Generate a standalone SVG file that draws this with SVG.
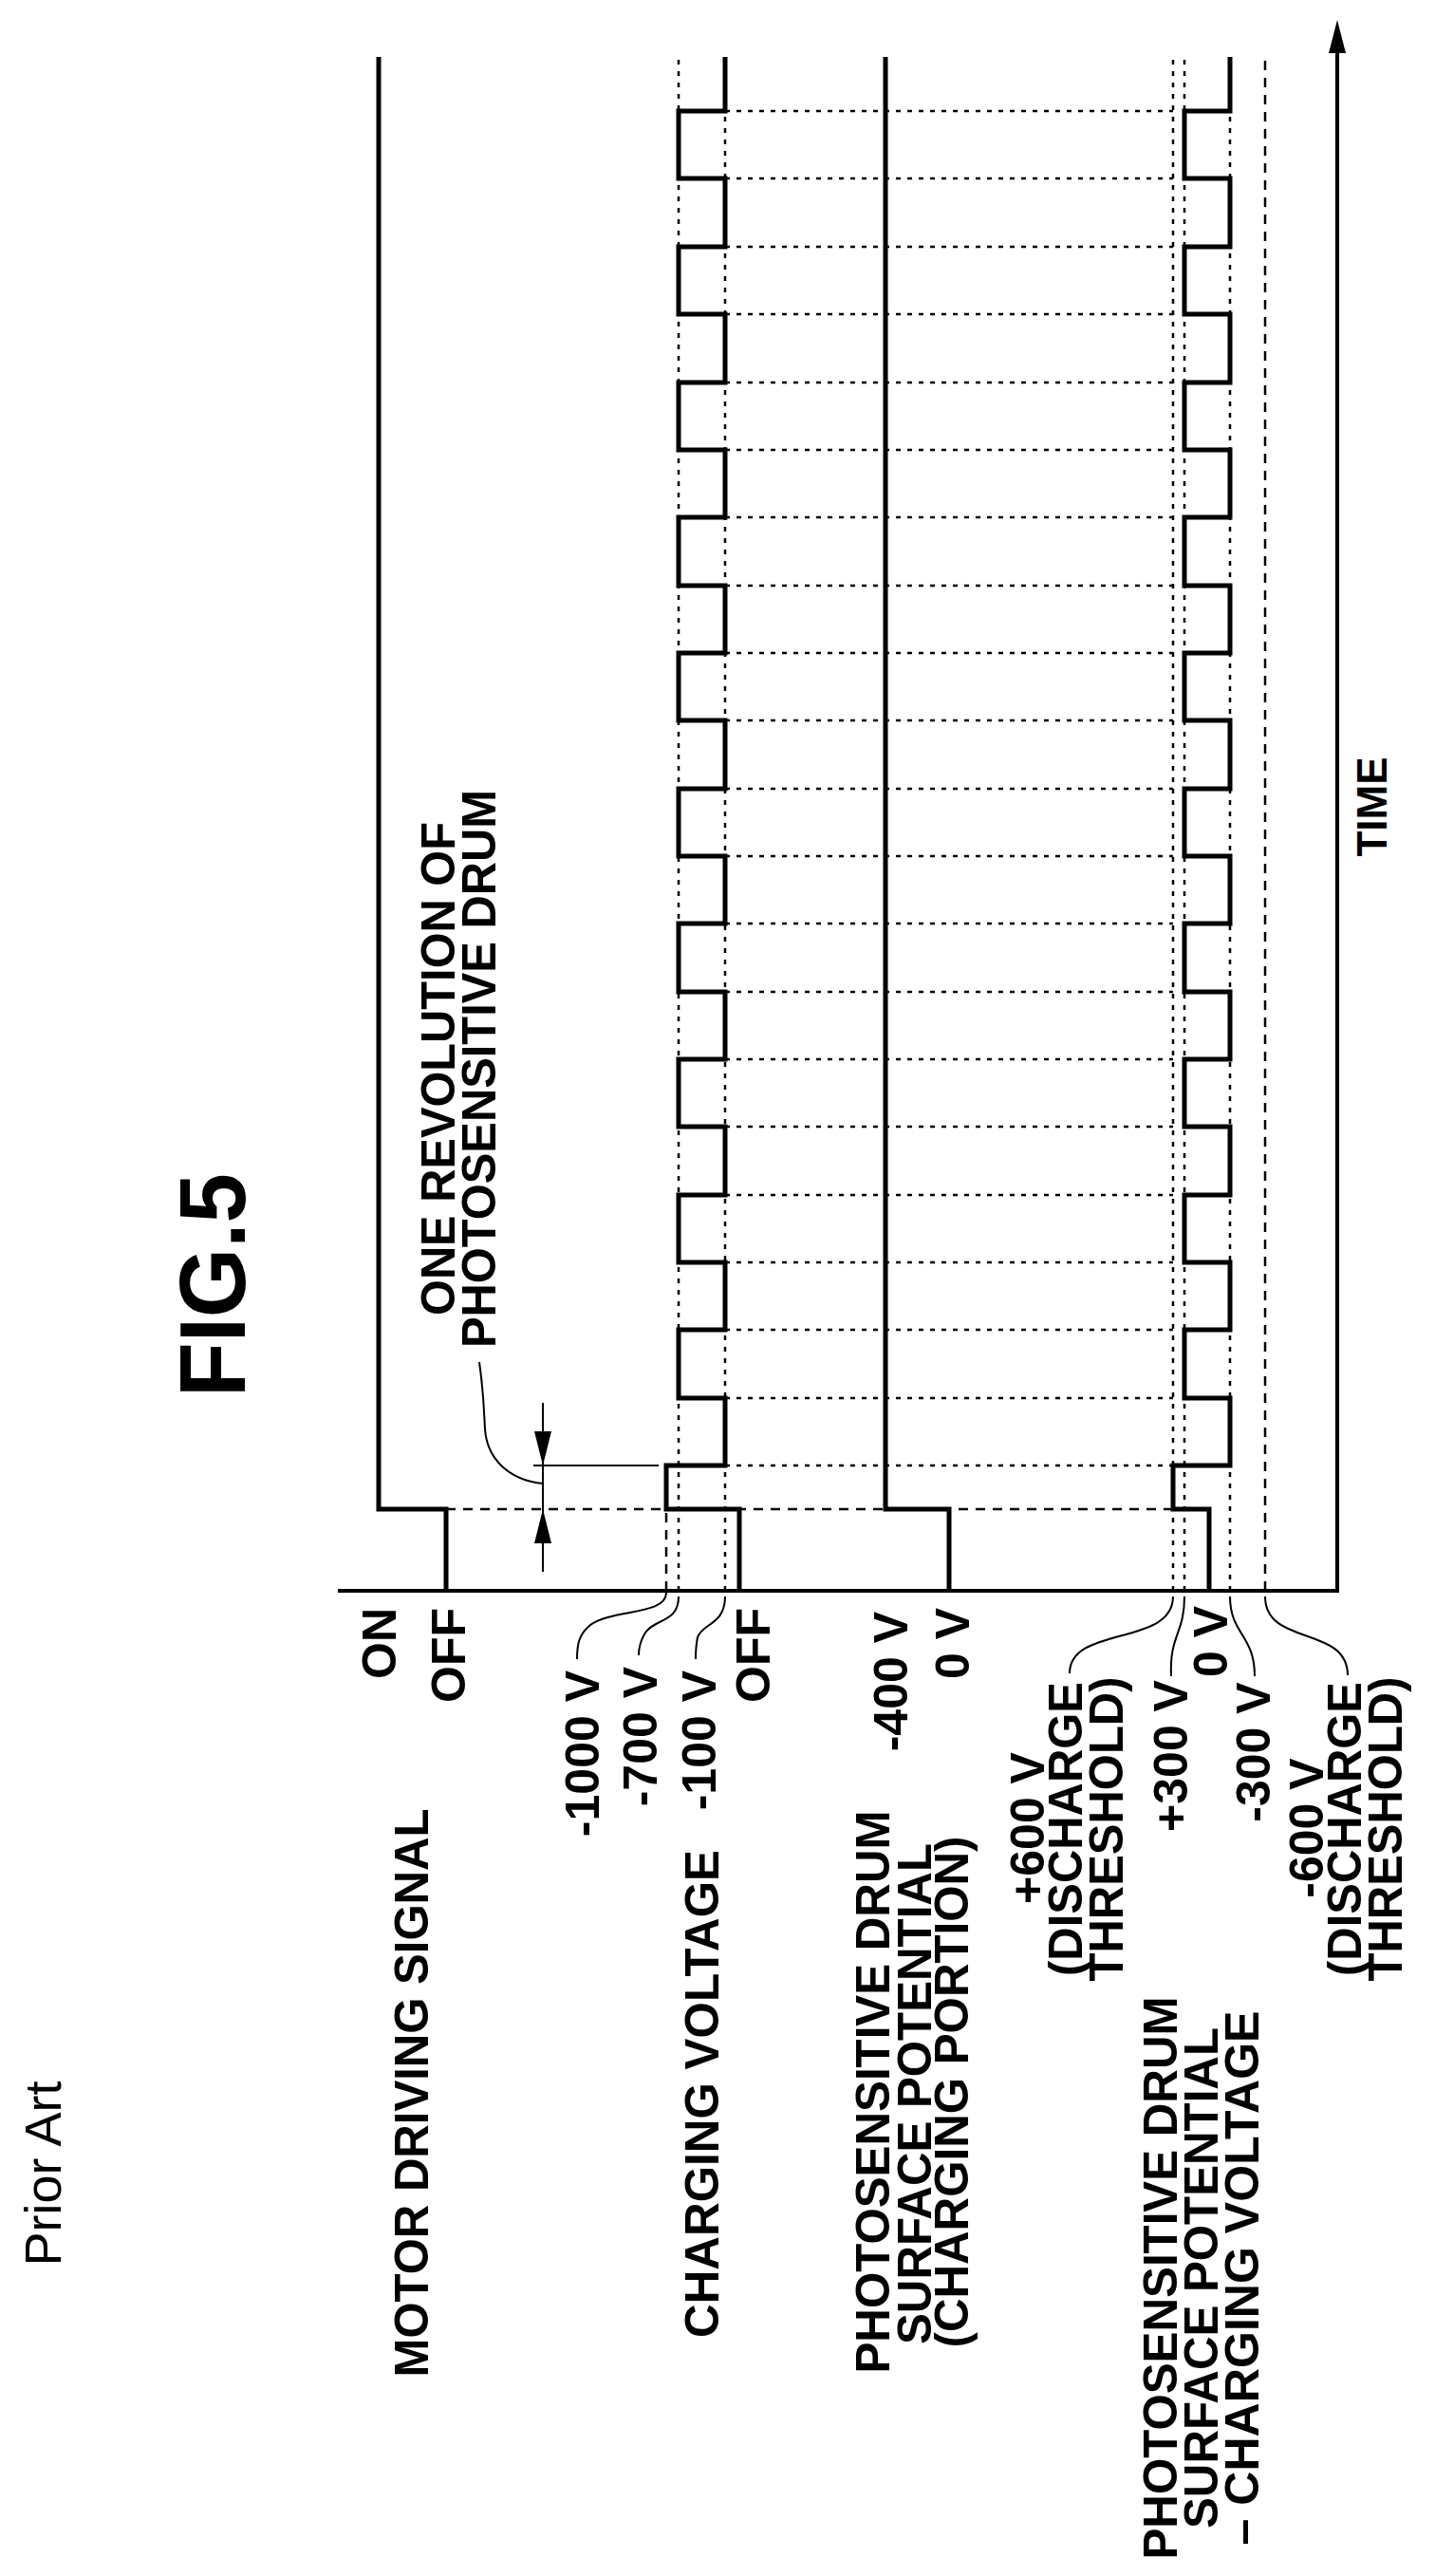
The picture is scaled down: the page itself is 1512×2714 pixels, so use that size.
<svg xmlns="http://www.w3.org/2000/svg" width="1512" height="2714" viewBox="0 0 1512 2714">
<style>
.sig{fill:none;stroke:#000;stroke-width:5;stroke-linejoin:miter}
.ax{fill:none;stroke:#000;stroke-width:4}
.dash{fill:none;stroke:#000;stroke-width:2.5;stroke-dasharray:10 8}
.dot{fill:none;stroke:#000;stroke-width:2.5;stroke-dasharray:5 7}
.lead{fill:none;stroke:#000;stroke-width:2}
.t{font-family:"Liberation Sans",Arial,sans-serif;font-weight:bold;font-size:50px;fill:#000}
.c{text-anchor:middle}
.e{text-anchor:end}
</style>
<rect width="1512" height="2714" fill="#fff"/>
<g id="guides">
<path class="dash" d="M702 1676V1590"/>
<path class="dot" d="M715 1676V60M764 1676V60M1236 1676V60M1248 1676V60M1296 1676V60"/>
<path class="dash" d="M1333 1676V60"/>
<path class="dash" d="M470 1590H1236"/>
<path class="dot" d="M764 1544H1236M764 1473H1236M764 1401H1236M764 1330H1236M764 1259H1236M764 1187H1236M764 1116H1236M764 1045H1236M764 973H1236M764 902H1236M764 831H1236M764 759H1236M764 688H1236M764 617H1236M764 545H1236M764 474H1236M764 403H1236M764 331H1236M764 260H1236M764 188H1236M764 117H1236"/>
</g>
<g id="axes">
<path class="ax" d="M356 1676H1409V50"/>
<polygon points="1409,21 1400,56 1418,56" fill="#000"/>
</g>
<g id="motor"><path class="sig" d="M470 1676V1590H399V60"/></g>
<g id="charging"><path class="sig" d="M779 1676V1590H702V1544H764V1473H715V1401H764V1330H715V1259H764V1187H715V1116H764V1045H715V973H764V902H715V831H764V759H715V688H764V617H715V545H764V474H715V403H764V331H715V260H764V188H715V117H764V60"/></g>
<g id="drum"><path class="sig" d="M1000 1676V1590H933V60"/></g>
<g id="difference"><path class="sig" d="M1274 1676V1590H1236V1544H1296V1473H1248V1401H1296V1330H1248V1259H1296V1187H1248V1116H1296V1045H1248V973H1296V902H1248V831H1296V759H1248V688H1296V617H1248V545H1296V474H1248V403H1296V331H1248V260H1296V188H1248V117H1296V60"/></g>
<g id="dimension">
<path class="lead" d="M562 1544H694M572 1478V1656"/>
<polygon points="572,1544 563,1508 581,1508" fill="#000"/>
<polygon points="572,1590 563,1626 581,1626" fill="#000"/>
<path class="lead" d="M505 1435C510 1470 510 1490 511 1505C513 1540 540 1560 572 1563"/>
</g>
<g id="leaders">
<path class="lead" d="M702 1678C702 1702 645 1695 622 1712C610 1722 608 1732 608 1748"/>
<path class="lead" d="M715 1682C715 1710 690 1705 680 1720C675 1728 673 1735 673 1744"/>
<path class="lead" d="M764 1682C764 1712 740 1710 735 1725C733 1735 733 1740 733 1748"/>
<path class="lead" d="M1236 1682C1236 1735 1127 1712 1127 1763"/>
<path class="lead" d="M1248 1682C1248 1722 1232 1722 1234 1766"/>
<path class="lead" d="M1296 1682C1296 1722 1322 1722 1322 1766"/>
<path class="lead" d="M1333 1682C1333 1735 1420 1712 1420 1765"/>
</g>
<g id="labels">
<text class="t" transform="translate(64,2290) rotate(-90)" style="font-weight:normal;font-size:54px" text-anchor="middle">Prior Art</text>
<text class="t" transform="translate(258,1472) rotate(-90)" style="font-size:98px" textLength="236" lengthAdjust="spacingAndGlyphs">FIG.5</text>
<text class="t c" transform="translate(479,1126) rotate(-90)" textLength="520" lengthAdjust="spacingAndGlyphs">ONE REVOLUTION OF</text>
<text class="t c" transform="translate(522,1126) rotate(-90)" textLength="588" lengthAdjust="spacingAndGlyphs">PHOTOSENSITIVE DRUM</text>
<text class="t c" transform="translate(1461,850) rotate(-90)" style="font-size:44px">TIME</text>
<text class="t c" transform="translate(451,2205) rotate(-90)" textLength="599" lengthAdjust="spacingAndGlyphs">MOTOR DRIVING SIGNAL</text>
<text class="t c" transform="translate(757,2206) rotate(-90)" textLength="514" lengthAdjust="spacingAndGlyphs">CHARGING VOLTAGE</text>
<text class="t c" transform="translate(937,2204) rotate(-90)" textLength="593" lengthAdjust="spacingAndGlyphs">PHOTOSENSITIVE DRUM</text>
<text class="t c" transform="translate(981,2206) rotate(-90)" textLength="528" lengthAdjust="spacingAndGlyphs">SURFACE POTENTIAL</text>
<text class="t c" transform="translate(1020,2204) rotate(-90)" textLength="539" lengthAdjust="spacingAndGlyphs">(CHARGING PORTION)</text>
<text class="t c" transform="translate(1240,2400) rotate(-90)" textLength="593" lengthAdjust="spacingAndGlyphs">PHOTOSENSITIVE DRUM</text>
<text class="t c" transform="translate(1283,2400) rotate(-90)" textLength="528" lengthAdjust="spacingAndGlyphs">SURFACE POTENTIAL</text>
<text class="t c" transform="translate(1326,2400) rotate(-90)" textLength="563" lengthAdjust="spacingAndGlyphs">– CHARGING VOLTAGE</text>
<text class="t e" transform="translate(417,1694) rotate(-90)">ON</text>
<text class="t e" transform="translate(490,1694) rotate(-90)">OFF</text>
<text class="t e" transform="translate(631,1760) rotate(-90)">-1000 V</text>
<text class="t e" transform="translate(692,1756) rotate(-90)">-700 V</text>
<text class="t e" transform="translate(754,1760) rotate(-90)">-100 V</text>
<text class="t e" transform="translate(811,1694) rotate(-90)">OFF</text>
<text class="t e" transform="translate(956,1698) rotate(-90)">-400 V</text>
<text class="t e" transform="translate(1021,1694) rotate(-90)">0 V</text>
<text class="t c" transform="translate(1100,1926) rotate(-90)">+600 V</text>
<text class="t c" transform="translate(1140,1927) rotate(-90)" textLength="310" lengthAdjust="spacingAndGlyphs">(DISCHARGE</text>
<text class="t c" transform="translate(1183,1927) rotate(-90)" textLength="321" lengthAdjust="spacingAndGlyphs">THRESHOLD)</text>
<text class="t c" transform="translate(1251,1850) rotate(-90)">+300 V</text>
<text class="t e" transform="translate(1293,1692) rotate(-90)">0 V</text>
<text class="t c" transform="translate(1338,1846) rotate(-90)">-300 V</text>
<text class="t c" transform="translate(1394,1926) rotate(-90)">-600 V</text>
<text class="t c" transform="translate(1434,1927) rotate(-90)" textLength="310" lengthAdjust="spacingAndGlyphs">(DISCHARGE</text>
<text class="t c" transform="translate(1477,1927) rotate(-90)" textLength="321" lengthAdjust="spacingAndGlyphs">THRESHOLD)</text>
</g>
</svg>
